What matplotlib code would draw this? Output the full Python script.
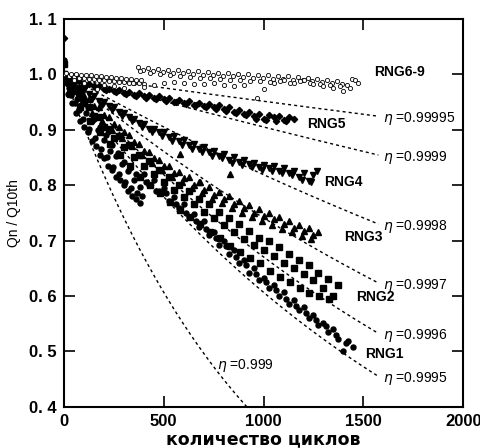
import numpy as np
import matplotlib
matplotlib.use("Agg")
import matplotlib.pyplot as plt

plt.rcParams['font.family'] = ['Liberation Sans Narrow', 'Liberation Sans', 'DejaVu Sans']

# ---- data ----
etas = [0.999, 0.9995, 0.9996, 0.9997, 0.9998, 0.9999, 0.99995]
eta_labels = ["=0.999", "=0.9995", "=0.9996", "=0.9997", "=0.9998", "=0.9999", "=0.99995"]

rng1_x = [0, 5, 15, 25, 35, 45, 55, 65, 75, 85, 95, 110, 125, 140, 155, 170, 185, 200, 215, 230,
          245, 260, 275, 290, 305, 320, 335, 350, 365, 380, 390,
          20, 40, 60, 80, 100, 120, 140, 160, 180, 200, 220, 240, 260, 280, 300, 320, 340, 360, 380,
          30, 60, 90, 120, 150, 180, 210, 240, 270, 300, 330, 360,
          400, 425, 450, 475, 500, 525, 550, 575, 600, 625, 650, 675, 700, 725, 750, 775, 800,
          825, 850, 875, 900, 925, 950, 975, 1000, 1025, 1050, 1075, 1100, 1125, 1150, 1175,
          1200, 1225, 1250, 1275, 1300, 1325, 1350, 1375, 1400, 1425, 1450,
          412, 462, 512, 562, 612, 662, 712, 762, 812, 862, 912, 962, 1012, 1062, 1112, 1162,
          1212, 1262, 1312, 1362, 1412]
rng1_y = [1.025, 0.995, 0.985, 0.975, 0.962, 0.97, 0.948, 0.955, 0.935, 0.945, 0.92, 0.93, 0.902,
          0.915, 0.885, 0.9, 0.866, 0.882, 0.85, 0.862, 0.832, 0.852, 0.82, 0.838, 0.806, 0.825,
          0.795, 0.81, 0.785, 0.796, 0.78,
          0.965, 0.948, 0.93, 0.915, 0.905, 0.895, 0.88, 0.87, 0.855, 0.848, 0.835, 0.828, 0.815,
          0.81, 0.80, 0.79, 0.78, 0.775, 0.768,
          0.99, 0.97, 0.955, 0.94, 0.92, 0.905, 0.89, 0.872, 0.858, 0.842, 0.83, 0.82,
          0.82, 0.80, 0.81, 0.79, 0.795, 0.772, 0.778, 0.758, 0.765, 0.742, 0.748, 0.725, 0.735,
          0.71, 0.716, 0.692, 0.70, 0.675, 0.682, 0.66, 0.665, 0.642, 0.65, 0.628, 0.632, 0.615,
          0.62, 0.60, 0.608, 0.585, 0.592, 0.574, 0.58, 0.56, 0.566, 0.548, 0.552, 0.535, 0.54,
          0.522, 0.50, 0.518, 0.508,
          0.805, 0.79, 0.785, 0.765, 0.75, 0.735, 0.72, 0.705, 0.69, 0.67, 0.655, 0.64, 0.625,
          0.61, 0.595, 0.582, 0.57, 0.556, 0.545, 0.53, 0.515]

rng2_x = [0, 0, 25, 50, 75, 100, 125, 150, 175, 200, 225, 250, 275, 300, 325, 350, 375, 400, 425,
          450, 475, 500, 525, 550, 575, 600, 625, 650, 675, 700, 725, 750, 775, 800, 825, 850,
          875, 900, 925, 950, 975, 1000, 1025, 1050, 1075, 1100, 1125, 1150, 1175, 1200, 1225,
          1250, 1275, 1300, 1325, 1350, 1375,
          30, 80, 130, 180, 230, 280, 330, 380, 430, 480, 530, 580, 630, 680, 730, 780, 830,
          880, 930, 980, 1030, 1080, 1130, 1180, 1230, 1280, 1330]
rng2_y = [1.018, 1.0, 0.985, 0.972, 0.96, 0.948, 0.94, 0.925, 0.922, 0.905, 0.902, 0.885, 0.888,
          0.868, 0.872, 0.85, 0.855, 0.835, 0.843, 0.82, 0.828, 0.806, 0.815, 0.792, 0.80, 0.778,
          0.79, 0.765, 0.775, 0.752, 0.765, 0.74, 0.752, 0.728, 0.74, 0.715, 0.73, 0.702, 0.718,
          0.692, 0.705, 0.682, 0.70, 0.672, 0.688, 0.66, 0.675, 0.65, 0.665, 0.64, 0.655, 0.628,
          0.642, 0.615, 0.63, 0.60, 0.62,
          0.965, 0.94, 0.915, 0.895, 0.875, 0.855, 0.835, 0.815, 0.80, 0.785, 0.77, 0.755, 0.742,
          0.73, 0.715, 0.705, 0.69, 0.68, 0.668, 0.66, 0.645, 0.635, 0.625, 0.615, 0.605, 0.60,
          0.595]

rng3_x = [0, 25, 50, 75, 100, 125, 150, 175, 200, 225, 250, 275, 300, 325, 350, 375, 400, 425,
          450, 475, 500, 525, 550, 575, 600, 625, 650, 675, 700, 725, 750, 775, 800, 825, 850,
          875, 900, 925, 950, 975, 1000, 1025, 1050, 1075, 1100, 1125, 1150, 1175, 1200, 1225,
          1250, 1275, 580, 830, 680,
          40, 90, 140, 190, 240, 290, 340, 390, 440, 490, 540, 590, 640, 690, 740, 790, 840,
          890, 940, 990, 1040, 1090, 1140, 1190, 1240]
rng3_y = [1.0, 0.99, 0.978, 0.972, 0.96, 0.955, 0.942, 0.94, 0.926, 0.922, 0.91, 0.905, 0.895,
          0.89, 0.878, 0.875, 0.862, 0.86, 0.848, 0.845, 0.835, 0.835, 0.822, 0.824, 0.812,
          0.815, 0.80, 0.806, 0.792, 0.796, 0.782, 0.788, 0.775, 0.78, 0.766, 0.772, 0.758,
          0.764, 0.75, 0.756, 0.744, 0.75, 0.738, 0.742, 0.73, 0.735, 0.722, 0.728, 0.718,
          0.722, 0.71, 0.715, 0.856, 0.82, 0.805,
          0.97, 0.95, 0.93, 0.915, 0.90, 0.885, 0.87, 0.855, 0.84, 0.828, 0.815, 0.805, 0.795,
          0.785, 0.775, 0.768, 0.758, 0.75, 0.742, 0.735, 0.728, 0.72, 0.715, 0.708, 0.702]

rng4_x = [0, 25, 50, 75, 100, 125, 150, 175, 200, 225, 250, 275, 300, 325, 350, 375, 400, 425,
          450, 475, 500, 525, 550, 575, 600, 625, 650, 675, 700, 725, 750, 775, 800, 825, 850,
          875, 900, 925, 950, 975, 1000, 1025, 1050, 1075, 1100, 1125, 1150, 1175, 1200, 1225,
          1250, 1270,
          40, 90, 140, 190, 240, 290, 340, 390, 440, 490, 540, 590, 640, 690, 740, 790, 840,
          890, 940, 990, 1040, 1090, 1140, 1190, 1240]
rng4_y = [1.0, 0.99, 0.985, 0.976, 0.972, 0.965, 0.96, 0.952, 0.95, 0.942, 0.94, 0.932, 0.93,
          0.922, 0.92, 0.912, 0.91, 0.902, 0.902, 0.895, 0.895, 0.886, 0.888, 0.88, 0.882, 0.872,
          0.875, 0.866, 0.868, 0.86, 0.862, 0.852, 0.856, 0.846, 0.85, 0.842, 0.846, 0.838, 0.84,
          0.832, 0.836, 0.83, 0.834, 0.826, 0.83, 0.822, 0.825, 0.815, 0.822, 0.808, 0.818, 0.825,
          0.982, 0.968, 0.955, 0.945, 0.935, 0.925, 0.915, 0.905, 0.895, 0.888, 0.88, 0.872,
          0.865, 0.86, 0.852, 0.848, 0.84, 0.836, 0.832, 0.828, 0.825, 0.822, 0.818, 0.81, 0.805]

rng5_x = [0, 0, 25, 50, 75, 100, 125, 150, 175, 200, 225, 250, 275, 300, 325, 350, 375, 400,
          425, 450, 475, 500, 525, 550, 575, 600, 625, 650, 675, 700, 725, 750, 775, 800, 825,
          850, 875, 900, 925, 950, 975, 1000, 1025, 1050, 1075, 1100, 1125, 1150,
          12, 62, 112, 162, 212, 262, 312, 362, 412, 462, 512, 562, 612, 662, 712, 762, 812,
          862, 912, 962, 1012, 1062, 1112]
rng5_y = [1.065, 1.0, 0.995, 0.99, 0.988, 0.983, 0.982, 0.978, 0.978, 0.974, 0.974, 0.97, 0.972,
          0.966, 0.968, 0.963, 0.966, 0.96, 0.962, 0.957, 0.96, 0.955, 0.957, 0.95, 0.954, 0.948,
          0.952, 0.945, 0.948, 0.942, 0.946, 0.94, 0.944, 0.938, 0.94, 0.932, 0.936, 0.928,
          0.932, 0.924, 0.928, 0.92, 0.926, 0.922, 0.925, 0.918, 0.922, 0.92,
          0.995, 0.988, 0.98, 0.976, 0.972, 0.968, 0.964, 0.96, 0.958, 0.955, 0.952, 0.95, 0.946,
          0.944, 0.94, 0.938, 0.934, 0.93, 0.926, 0.92, 0.918, 0.916, 0.915]

rng69_x = [0, 12, 25, 37, 50, 62, 75, 87, 100, 112, 125, 137, 150, 162, 175, 187, 200, 212, 225,
           237, 250, 262, 275, 287, 300, 312, 325, 337, 350, 362, 375, 387, 400,
           370, 395, 420, 445, 470, 495, 520, 545, 570, 595, 620, 645, 670, 695, 720, 745, 770,
           795, 820, 845, 870, 895, 920, 945, 970, 995, 1020, 1045, 1070, 1095, 1120, 1145,
           1170, 1195, 1220, 1245, 1270, 1295, 1320, 1345, 1370, 1395, 1420, 1445, 1460, 1475,
           382, 432, 482, 532, 582, 632, 682, 732, 782, 832, 882, 932, 982, 1032, 1082, 1132,
           1182, 1232, 1282, 1332, 1382, 1432,
           50, 100, 165, 200, 250, 300, 345, 400, 450, 500, 550, 600, 650, 700, 750, 800, 850,
           900, 965, 1000, 1050, 1100, 1150, 1200, 1250, 1300, 1350, 1400]
rng69_y = [1.0, 1.002, 0.996, 1.001, 0.995, 1.0, 0.994, 0.999, 0.993, 0.998, 0.992, 0.998, 0.991,
           0.997, 0.99, 0.996, 0.99, 0.995, 0.988, 0.995, 0.988, 0.994, 0.986, 0.993, 0.986,
           0.992, 0.985, 0.991, 0.984, 0.99, 0.984, 0.99, 0.983,
           1.013, 1.008, 1.011, 1.006, 1.009, 1.004, 1.008, 1.003, 1.007, 1.002, 1.006, 1.0,
           1.005, 0.999, 1.004, 0.998, 1.003, 0.997, 1.002, 0.996, 1.001, 0.995, 1.0, 0.994,
           0.999, 0.993, 0.998, 0.992, 0.997, 0.991, 0.996, 0.99, 0.995, 0.99, 0.994, 0.988,
           0.992, 0.986, 0.99, 0.984, 0.988, 0.982, 0.98, 0.992, 0.99, 0.985,
           1.005, 1.002, 1.0, 0.998, 0.997, 0.995, 0.994, 0.993, 0.992, 0.99, 0.99, 0.988, 0.987,
           0.986, 0.988, 0.985, 0.987, 0.984, 0.983, 0.98, 0.978, 0.975,
           0.99, 0.985, 0.973, 0.98, 0.978, 0.976, 0.985, 0.977, 0.98, 0.985, 0.986, 0.984,
           0.982, 0.983, 0.985, 0.98, 0.978, 0.98, 0.958, 0.974, 0.985, 0.99, 0.985, 0.99,
           0.982, 0.978, 0.975, 0.97]

rng_labels = ["RNG1", "RNG2", "RNG3", "RNG4", "RNG5", "RNG6-9"]
rng_label_x = [1510, 1465, 1405, 1305, 1220, 1555]
rng_label_y = [0.495, 0.598, 0.706, 0.805, 0.910, 1.004]

x_ticks = [0, 500, 1000, 1500, 2000]
y_ticks = [0.4, 0.5, 0.6, 0.7, 0.8, 0.9, 1.0, 1.1]
y_tick_labels = ["0. 4", "0. 5", "0. 6", "0. 7", "0. 8", "0. 9", "1. 0", "1. 1"]

# ---- figure ----
fig = plt.figure(figsize=(4.81, 4.48), dpi=100)
ax = fig.add_axes([0.133, 0.092, 0.830, 0.866])

# theoretical curves eta^n
for eta, lab in zip(etas, eta_labels):
    x_end = 920 if eta == 0.999 else 1575
    n = np.linspace(0, x_end, 300)
    ax.plot(n, eta ** n, color="black", lw=1.0, ls=(0, (2.2, 2.2)), zorder=1)
    if eta == 0.999:
        ax.text(765, 0.474, r"$\eta$ " + lab, fontsize=10, ha="left", va="center")
    else:
        ax.text(x_end + 25, eta ** x_end - 0.004, r"$\eta$ " + lab, fontsize=10,
                ha="left", va="center")

mk = dict(ls="none", color="black", zorder=3)
ax.plot(rng1_x, rng1_y, marker="o", ms=3.6, **mk)
ax.plot(rng2_x, rng2_y, marker="s", ms=3.8, **mk)
ax.plot(rng3_x, rng3_y, marker="^", ms=4.2, **mk)
ax.plot(rng4_x, rng4_y, marker="v", ms=4.2, **mk)
ax.plot(rng5_x, rng5_y, marker="D", ms=3.2, **mk)
ax.plot(rng69_x, rng69_y, marker="o", ms=3.0, mfc="white", mec="black", mew=0.6,
        ls="none", zorder=3)

for lab, lx, ly in zip(rng_labels, rng_label_x, rng_label_y):
    ax.text(lx, ly, lab, fontsize=10, fontweight="bold", ha="left", va="center")

ax.set_xlim(0, 2000)
ax.set_ylim(0.4, 1.1)
ax.set_xticks(x_ticks)
ax.set_xticklabels([str(t) for t in x_ticks], fontsize=12, fontweight="bold")
ax.set_yticks(y_ticks)
ax.set_yticklabels(y_tick_labels, fontsize=12, fontweight="bold")
ax.tick_params(direction="in", length=8, width=1.2, top=True, right=True, pad=5)
for s in ax.spines.values():
    s.set_linewidth(1.5)

ax.set_xlabel("количество циклов", fontsize=12.5, fontweight="bold",
              family=["DejaVu Sans"], labelpad=1)
ax.set_ylabel("Qn / Q10th", fontsize=10, labelpad=6)

fig.savefig("out.png", dpi=100)
